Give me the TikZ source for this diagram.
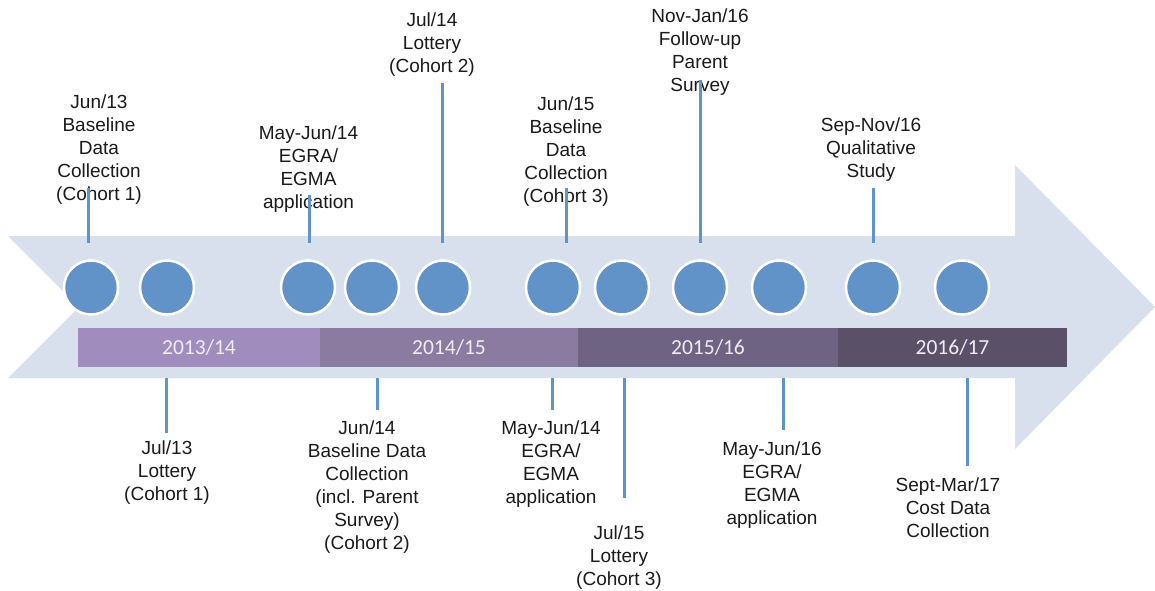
\documentclass[tikz,border=0pt]{standalone}
\usepackage{fontspec}
\setmainfont{Liberation Sans}
\newfontfamily\yearfont{Carlito}
\definecolor{arrowc}{HTML}{D7E0EC}
\definecolor{dotc}{HTML}{6193C8}
\definecolor{stemc}{HTML}{5F93CB}
\definecolor{txt}{HTML}{1A1A1A}
\definecolor{yrtext}{HTML}{F0ECF4}
\definecolor{ca}{HTML}{A08CBD}
\definecolor{cb}{HTML}{8B7BA0}
\definecolor{cc}{HTML}{6E6382}
\definecolor{cd}{HTML}{5A5169}
\begin{document}
\begin{tikzpicture}[x=1pt,y=-1pt,
  lbl/.style={font=\fontsize{19}{23}\selectfont, align=center, inner sep=0pt, text=txt, yshift=-2pt},
  stem/.style={draw=stemc, line width=3pt},
  dot/.style={circle, fill=dotc, draw=white, line width=2.5pt, minimum size=54pt, inner sep=0pt},
  band/.style={font=\yearfont\fontsize{21.5}{25}\selectfont, text=yrtext, inner sep=0pt, minimum height=39pt}]
\useasboundingbox (0,0) rectangle (1155,590);
% big arrow
\fill[arrowc] (8,236) -- (1015,236) -- (1015,165) -- (1155,307) -- (1015,449) -- (1015,378) -- (8,378) -- (79,307) -- cycle;
% year bands
\node[band, fill=ca, minimum width=242pt] (y1) at (199,347.5) {2013/14};
\node[band, fill=cb, minimum width=258pt] (y2) at (449,347.5) {2014/15};
\node[band, fill=cc, minimum width=260pt] (y3) at (708,347.5) {2015/16};
\node[band, fill=cd, minimum width=229pt] (y4) at (952.5,347.5) {2016/17};
% circles
\foreach \i/\x in {1/91,2/167,3/308,4/372,5/443,6/553,7/622,8/700,9/779,10/873,11/962}
  \node[dot] (c\i) at (\x,287.5) {};
% top labels
\node[lbl] (t1) at (99,147.5) {Jun/13\\Baseline\\Data\\Collection\\(Cohort 1)};
\node[lbl] (t2) at (308.5,167) {May-Jun/14\\EGRA/\\EGMA\\application};
\node[lbl] (t3) at (432,42.5) {Jul/14\\Lottery\\(Cohort 2)};
\node[lbl] (t4) at (566,149.5) {Jun/15\\Baseline\\Data\\Collection\\(Cohort 3)};
\node[lbl] (t5) at (700,50.5) {Nov-Jan/16\\Follow-up\\Parent\\Survey};
\node[lbl] (t6) at (871,148) {Sep-Nov/16\\Qualitative\\Study};
% bottom labels
\node[lbl] (b1) at (167,470.5) {Jul/13\\Lottery\\(Cohort 1)};
\node[lbl] (b2) at (367,485) {Jun/14\\Baseline Data\\Collection\\(incl. Parent\\Survey)\\(Cohort 2)};
\node[lbl] (b3) at (551,462) {May-Jun/14\\EGRA/\\EGMA\\application};
\node[lbl] (b4) at (619,555.5) {Jul/15\\Lottery\\(Cohort 3)};
\node[lbl] (b5) at (772,483.5) {May-Jun/16\\EGRA/\\EGMA\\application};
\node[lbl] (b6) at (948,506) {Sept-Mar/17\\Cost Data\\Collection};
% stem end points
\coordinate (s1a) at (88,188);   \coordinate (s1b) at (88,243);
\coordinate (s2a) at (309,195);  \coordinate (s2b) at (309,243);
\coordinate (s3a) at (442,83);   \coordinate (s3b) at (442,243);
\coordinate (s4a) at (566,188);  \coordinate (s4b) at (566,243);
\coordinate (s5a) at (700,80);   \coordinate (s5b) at (700,243);
\coordinate (s6a) at (873,188);  \coordinate (s6b) at (873,243);
\coordinate (u1a) at (166,378);  \coordinate (u1b) at (166,433);
\coordinate (u2a) at (377,378);  \coordinate (u2b) at (377,410);
\coordinate (u3a) at (552,378);  \coordinate (u3b) at (552,410);
\coordinate (u4a) at (624,378);  \coordinate (u4b) at (624,498);
\coordinate (u5a) at (783,378);  \coordinate (u5b) at (783,430);
\coordinate (u6a) at (967,378);  \coordinate (u6b) at (967,466);
\foreach \s in {s1,s2,s3,s4,s5,s6,u1,u2,u3,u4,u5,u6}
  \draw[stem] (\s a) -- (\s b);
\end{tikzpicture}
\end{document}
